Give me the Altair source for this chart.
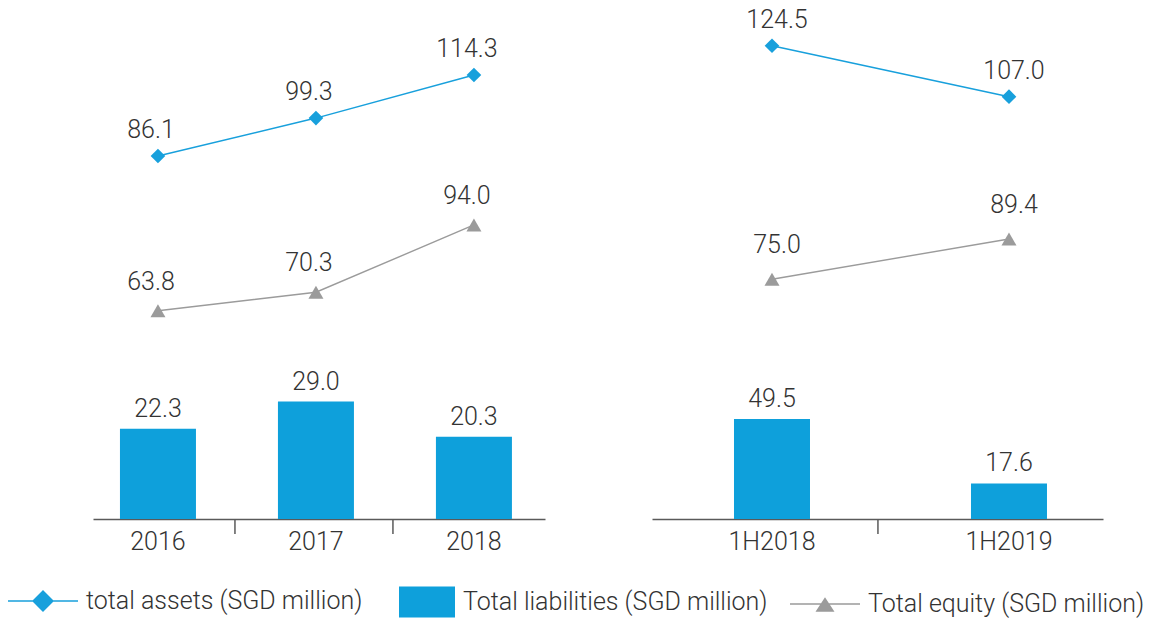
import altair as alt
import pandas as pd

# ---------------- data ----------------
periods_left = ["2016", "2017", "2018"]
assets_left = [86.1, 99.3, 114.3]
liab_left = [22.3, 29.0, 20.3]
equity_left = [63.8, 70.3, 94.0]

periods_right = ["1H2018", "1H2019"]
assets_right = [124.5, 107.0]
liab_right = [49.5, 17.6]
equity_right = [75.0, 89.4]

series_names = [
    "total assets (SGD million)",
    "Total liabilities (SGD million)",
    "Total equity (SGD million)",
]

# ---------------- style ----------------
BLUE = "#0ea0db"
LINE_BLUE = "#18a0dc"
GREY = "#9b9b9b"
TEXT = "#333333"
FONT = "Roboto"
WEIGHT = 300
FS = 25
H = 514

PATH_ASSETS = ("M-1,-0.022L1,-0.022L1,0.022L-1,0.022Z"
               "M0,-0.314L0.314,0L0,0.314L-0.314,0Z")
PATH_LIAB = "M-1,-0.553L1,-0.553L1,0.553L-1,0.553Z"
PATH_EQUITY = ("M-1,-0.018L1,-0.018L1,0.018L-1,0.018Z"
               "M-0.271,0.22L0,-0.19L0.271,0.22Z")


def legend(path, size, lx, ly):
    return alt.Legend(
        title=None, orient="none", legendX=lx, legendY=ly, padding=0,
        symbolType=path, symbolSize=size, symbolStrokeWidth=0,
        symbolOpacity=1, labelFont=FONT, labelFontSize=FS,
        labelFontWeight=WEIGHT,
        labelColor=TEXT, labelOffset=8, labelLimit=600,
    )


def panel(periods, assets, liab, equity, width, xscale, tick_shift,
          ydom_bar, ydom_assets, ydom_equity, a_dx, a_dy, e_dx, e_dy,
          with_legend):
    df = pd.DataFrame({"period": periods, "assets": assets,
                       "liab": liab, "equity": equity})
    ticks_df = pd.DataFrame({"period": periods[1:]})
    base = alt.Chart(df)
    axis = alt.Axis(title=None, labelAngle=0, ticks=False, tickSize=0,
                    domainColor="#5a5a5a", domainWidth=1.5,
                    labelFont=FONT, labelFontSize=FS, labelFontWeight=WEIGHT,
                    labelColor=TEXT, labelPadding=10.5)

    def X(**kw):
        return alt.X("period:N", sort=periods, scale=xscale, axis=axis, **kw)

    def Y(field, dom):
        return alt.Y(f"{field}:Q", scale=alt.Scale(domain=dom, nice=False,
                                                    zero=False), axis=None)

    txt = dict(font=FONT, fontSize=FS, fontWeight=WEIGHT, color=TEXT,
               baseline="alphabetic")

    # --- total assets line ---
    if with_legend:
        a_color = alt.Color(
            "series:N",
            scale=alt.Scale(domain=[series_names[0]], range=[LINE_BLUE]),
            legend=legend(PATH_ASSETS, 4900, -85, 561))
    else:
        a_color = alt.value(LINE_BLUE)
    a_line = base.mark_line(color=LINE_BLUE, strokeWidth=1.5).encode(
        x=X(), y=Y("assets", ydom_assets))
    a_pts = base.transform_calculate(series=f"'{series_names[0]}'").mark_point(
        shape="diamond", filled=True, size=215, opacity=1).encode(
        x=X(), y=Y("assets", ydom_assets), color=a_color)
    a_txt = base.mark_text(dx=a_dx, dy=a_dy, **txt).encode(
        x=X(), y=Y("assets", ydom_assets), text=alt.Text("assets:Q", format=".1f"))
    assets_layer = alt.layer(a_line, a_pts, a_txt)

    # --- total liabilities bars ---
    if with_legend:
        b_color = alt.Color(
            "series:N",
            scale=alt.Scale(domain=[series_names[1]], range=[BLUE]),
            legend=legend(PATH_LIAB, 3136, 306, 569))
    else:
        b_color = alt.value(BLUE)
    bars = base.transform_calculate(series=f"'{series_names[1]}'").mark_bar(
        width=76).encode(x=X(), y=Y("liab", ydom_bar), color=b_color)
    b_txt = base.mark_text(dy=-12, **txt).encode(
        x=X(), y=Y("liab", ydom_bar), text=alt.Text("liab:Q", format=".1f"))
    bar_layer = alt.layer(bars, b_txt)

    # --- total equity line ---
    if with_legend:
        e_color = alt.Color(
            "series:N",
            scale=alt.Scale(domain=[series_names[2]], range=[GREY]),
            legend=legend(PATH_EQUITY, 4900, 697, 564))
    else:
        e_color = alt.value(GREY)
    e_line = base.mark_line(color=GREY, strokeWidth=1.4).encode(
        x=X(), y=Y("equity", ydom_equity))
    e_pts = base.transform_calculate(series=f"'{series_names[2]}'").mark_point(
        shape="triangle-up", filled=True, size=225, opacity=1).encode(
        x=X(), y=Y("equity", ydom_equity), color=e_color)
    e_txt = base.mark_text(dx=e_dx, dy=e_dy, **txt).encode(
        x=X(), y=Y("equity", ydom_equity), text=alt.Text("equity:Q", format=".1f"))
    equity_layer = alt.layer(e_line, e_pts, e_txt)

    # --- category separator ticks ---
    ticks = alt.Chart(ticks_df).mark_rule(
        color="#5a5a5a", strokeWidth=1.5, xOffset=tick_shift).encode(
        x=X(bandPosition=0), y=alt.value(H), y2=alt.value(H + 15))

    return alt.layer(assets_layer, bar_layer, equity_layer, ticks).resolve_scale(
        y="independent", color="independent").resolve_legend(
        color="independent").properties(width=width, height=H)


left = panel(
    periods_left, assets_left, liab_left, equity_left, 452,
    alt.Scale(paddingInner=0.3, paddingOuter=0.0805, align=0.38, round=False),
    -25.7, [0, 126.9], [-40.29, 138.68], [-9.54, 171.45],
    -7, -18, -7, -21, True)

right = panel(
    periods_right, assets_right, liab_right, equity_right, 451,
    alt.Scale(paddingInner=0.3, paddingOuter=0.1015, align=0.77, round=False),
    -48.1, [0, 254.5], [-37.92, 138.47], [-10.61, 172.96],
    5, -18, 5, -26, False)

chart = alt.hconcat(left, right, spacing=107, bounds="flush").resolve_scale(
    color="independent").properties(
    padding={"left": 8, "top": 5, "right": 5, "bottom": 0}
).configure_view(stroke=None)

chart.save("out.html", embed_options={"renderer": "svg", "actions": False})
